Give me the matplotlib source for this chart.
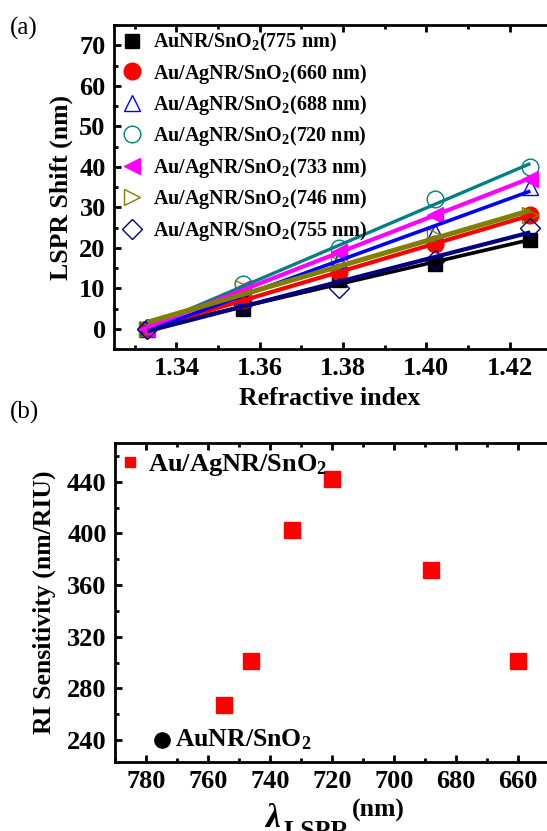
import numpy as np
import matplotlib
matplotlib.use("Agg")
import matplotlib.pyplot as plt
from matplotlib.ticker import MultipleLocator, FixedLocator, FormatStrFormatter

plt.rcParams['font.family'] = ['Liberation Serif', 'DejaVu Serif']
plt.rcParams['font.weight'] = 'bold'
plt.rcParams['mathtext.fontset'] = 'custom'
plt.rcParams['mathtext.rm'] = 'Liberation Serif:bold'
plt.rcParams['mathtext.bf'] = 'Liberation Serif:bold'
plt.rcParams['mathtext.it'] = 'Liberation Serif:italic'

# ---------------- data: panel (a) ----------------
ri = [1.333, 1.356, 1.379, 1.402, 1.425]
shift_aunr_775 = [0, 5, 12, 16, 22]
shift_660 = [0, 7, 14, 21, 28]
shift_688 = [0, 8, 17, 24, 35]
shift_720 = [0, 11, 20, 32, 40]
shift_733 = [0, 10, 19, 28, 37]
shift_746 = [0, 10, 16, 23, 28]
shift_755 = [0, 6, 10, 17, 25]
labels_a = [r'AuNR/SnO$_\mathbf{2}$(775 nm)',
            r'Au/AgNR/SnO$_\mathbf{2}$(660 nm)',
            r'Au/AgNR/SnO$_\mathbf{2}$(688 nm)',
            r'Au/AgNR/SnO$_\mathbf{2}$(720 nm)',
            r'Au/AgNR/SnO$_\mathbf{2}$(733 nm)',
            r'Au/AgNR/SnO$_\mathbf{2}$(746 nm)',
            r'Au/AgNR/SnO$_\mathbf{2}$(755 nm)']
xticks_a = [1.34, 1.36, 1.38, 1.40, 1.42]
yticks_a = [0, 10, 20, 30, 40, 50, 60, 70]

# ---------------- data: panel (b) ----------------
lspr_agnr = [660, 688, 720, 733, 746, 755]
sens_agnr = [301, 372, 442, 403, 301, 267]
lspr_aunr = [775]
sens_aunr = [240]
xticks_b = [780, 760, 740, 720, 700, 680, 660]
yticks_b = [240, 280, 320, 360, 400, 440]

W, H = 547, 831
fig = plt.figure(figsize=(W / 100, H / 100), dpi=100)

def style_axes(ax):
    for s in ax.spines.values():
        s.set_linewidth(2.0)
    ax.tick_params(which='both', direction='in', top=True, right=True,
                   labelsize=19, pad=6)
    ax.tick_params(which='major', length=5, width=2)
    ax.tick_params(which='minor', length=3, width=2)
    for lab in ax.get_xticklabels() + ax.get_yticklabels():
        lab.set_fontweight('bold')

# ---------------- panel (a) ----------------
ax1 = fig.add_axes([114 / W, 1 - 349 / H, 458 / W, 324 / H])
series = [shift_aunr_775, shift_660, shift_688, shift_720, shift_733, shift_746, shift_755]
colors = ['black', '#ff0000', '#0000ff', '#008080', '#ff00ff', '#808000', '#000080']
markers = ['s', 'o', '^', 'o', '<', '>', 'D']
filled = [True, True, False, False, True, False, False]
msizes = [10, 12, 12, 12, 12, 12, 10]
lws = [2.6, 3.0, 2.6, 2.4, 3.0, 3.6, 3.0]

x = np.array(ri)
for ys, c, m, f, ms, lab in zip(series, colors, markers, filled, msizes, labels_a):
    ax1.plot(x, ys, linestyle='none', marker=m, markersize=ms,
             markerfacecolor=c if f else 'none', markeredgecolor=c,
             markeredgewidth=1.0, label=lab, zorder=3)
for ys, c, lw in zip(series, colors, lws):
    k, b = np.polyfit(x, ys, 1)
    xx = np.array([x[0], x[-1]])
    ax1.plot(xx, k * xx + b, color=c, lw=lw, zorder=4, solid_capstyle='butt')

ax1.set_xlim(1.325, 1.435)
ax1.set_ylim(-5, 75)
ax1.xaxis.set_major_locator(FixedLocator(xticks_a))
ax1.xaxis.set_minor_locator(MultipleLocator(0.01))
ax1.yaxis.set_major_locator(FixedLocator(yticks_a))
ax1.yaxis.set_minor_locator(MultipleLocator(5))
ax1.xaxis.set_major_formatter(FormatStrFormatter('%.2f'))
style_axes(ax1)
ax1.set_ylabel('LSPR Shift (nm)', fontsize=18.5, fontweight='bold')
ax1.yaxis.set_label_coords((73 - 114) / 458, 0.5)
fig.text(330 / W, 1 - 399 / H, 'Refractive index', fontsize=18.5, fontweight='bold',
         ha='center', va='center')
leg = ax1.legend(loc='upper left', bbox_to_anchor=(2 / 458, 1.0), frameon=False,
                 prop={'size': 14.5, 'weight': 'bold'}, handletextpad=0.55,
                 labelspacing=0.37, borderaxespad=0.0, handlelength=1.0,
                 borderpad=0.3)

fig.text(10 / W, 1 - 28 / H, '(a)', fontsize=18, fontweight='normal', va='center')
fig.text(10 / W, 1 - 412 / H, '(b)', fontsize=18, fontweight='normal', va='center')

# ---------------- panel (b) ----------------
ax2 = fig.add_axes([115 / W, 1 - 762 / H, 465 / W, 319 / H])
ax2.plot(lspr_agnr, sens_agnr, linestyle='none', marker='s', markersize=11,
         color='#ff0000', label=r'Au/AgNR/SnO$_\mathbf{2}$')
ax2.plot(lspr_aunr, sens_aunr, linestyle='none', marker='o', markersize=11,
         color='black')
ax2.text(770.5, sens_aunr[0], r'AuNR/SnO$_\mathbf{2}$', fontsize=18.5, fontweight='bold',
         va='center', ha='left')
ax2.set_xlim(790, 640)
ax2.set_ylim(223, 470)
ax2.xaxis.set_major_locator(FixedLocator(xticks_b))
ax2.xaxis.set_minor_locator(MultipleLocator(10))
ax2.yaxis.set_major_locator(FixedLocator(yticks_b))
ax2.yaxis.set_minor_locator(MultipleLocator(20))
style_axes(ax2)
ax2.set_ylabel('RI Sensitivity (nm/RIU)', fontsize=18.5, fontweight='bold')
ax2.yaxis.set_label_coords((56 - 115) / 465, 0.5)
ax2.legend(loc='upper left', bbox_to_anchor=(0.0, 1 - 5 / 319), frameon=False,
           prop={'size': 19, 'weight': 'bold'},
           markerscale=0.7, handletextpad=0.3, handlelength=0.8,
           borderaxespad=0.0, borderpad=0.15)

fig.text(264 / W, 1 - 827 / H, r'$\lambda$', fontsize=24, fontweight='normal',
         ha='left', va='baseline', style='italic')
fig.text(283 / W, 1 - 838 / H, 'LSPR', fontsize=18.5, fontweight='bold',
         ha='left', va='baseline')
fig.text(352 / W, 1 - 817 / H, '(nm)', fontsize=18.5, fontweight='bold',
         ha='left', va='baseline')

fig.savefig('out.png', dpi=100)
